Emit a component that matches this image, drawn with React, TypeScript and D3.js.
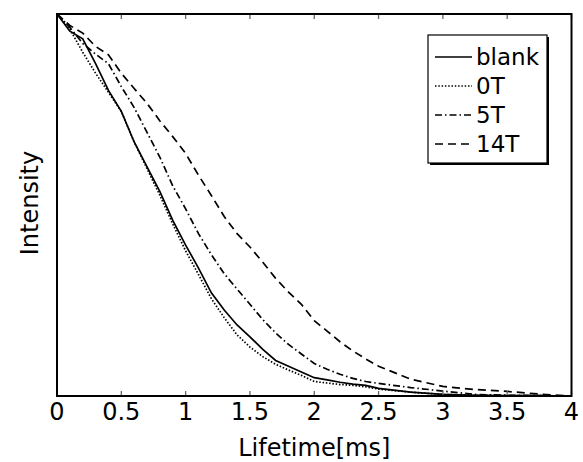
import React from "react";
import { scaleLinear, line } from "d3";

const timeMs = [0, 0.1, 0.2, 0.3, 0.4, 0.5, 0.6, 0.7, 0.8, 0.9, 1.0, 1.1, 1.2, 1.3, 1.4, 1.5, 1.6, 1.7, 1.8, 1.9, 2.0, 2.1, 2.2, 2.3, 2.4, 2.5, 2.75, 3.0, 3.25, 3.5, 3.75, 4.0];

const blank = [1.0, 0.955, 0.935, 0.87, 0.8, 0.745, 0.665, 0.6, 0.535, 0.46, 0.395, 0.335, 0.27, 0.225, 0.186, 0.155, 0.122, 0.093, 0.078, 0.063, 0.048, 0.042, 0.036, 0.031, 0.028, 0.02, 0.01, 0.004, 0.002, 0.001, 0.001, 0];
const t0 = [1.0, 0.96, 0.9, 0.845, 0.795, 0.745, 0.665, 0.595, 0.525, 0.45, 0.38, 0.318, 0.255, 0.205, 0.16, 0.128, 0.103, 0.083, 0.068, 0.054, 0.038, 0.034, 0.03, 0.028, 0.024, 0.018, 0.01, 0.004, 0.002, 0.001, 0.001, 0];
const t5 = [1.0, 0.965, 0.923, 0.895, 0.87, 0.81, 0.755, 0.69, 0.625, 0.55, 0.49, 0.425, 0.37, 0.32, 0.28, 0.24, 0.2, 0.165, 0.135, 0.11, 0.085, 0.07, 0.057, 0.046, 0.038, 0.033, 0.022, 0.013, 0.004, 0.002, 0.001, 0];
const t14 = [1.0, 0.97, 0.95, 0.915, 0.893, 0.845, 0.805, 0.766, 0.72, 0.679, 0.635, 0.578, 0.525, 0.47, 0.425, 0.39, 0.35, 0.308, 0.272, 0.24, 0.197, 0.17, 0.142, 0.118, 0.097, 0.078, 0.044, 0.025, 0.017, 0.012, 0.005, 0];

const seriesNames = ["blank", "0T", "5T", "14T"];
const seriesDash = ["none", "1.5,1.8", "7,3,1.5,3", "8,5"];
const xTicks = [0, 0.5, 1, 1.5, 2, 2.5, 3, 3.5, 4];

const W = 583, H = 462;
const left = 57, right = 571.5, top = 14, bottom = 396;
const font = "DejaVu Sans";

export default function App() {
  const x = scaleLinear().domain([0, 4]).range([left, right]);
  const y = scaleLinear().domain([0, 1]).range([bottom, top]);
  const all = [blank, t0, t5, t14];

  const path = (vals: number[]) =>
    line<number>()
      .x((d, i) => x(timeMs[i]))
      .y((d) => y(d))(vals) as string;

  return (
    <svg width={W} height={H} style={{ position: "absolute", left: 0, top: 0 }}>
      <rect x={0} y={0} width={W} height={H} fill="white" />
      {all.map((vals, i) => (
        <path key={i} d={path(vals)} fill="none" stroke="black" strokeWidth={1.7}
          strokeDasharray={seriesDash[i]} />
      ))}
      {xTicks.map((t) => (
        <g key={t}>
          <line x1={x(t)} x2={x(t)} y1={bottom} y2={bottom - 5} stroke="#666" strokeWidth={1.3} />
          <line x1={x(t)} x2={x(t)} y1={top} y2={top + 5} stroke="#666" strokeWidth={1.3} />
          <text x={x(t)} y={420} textAnchor="middle" fontFamily={font} fontSize={24}>{t}</text>
        </g>
      ))}
      <rect x={left} y={top} width={right - left} height={bottom - top} fill="none" stroke="black" strokeWidth={2} />
      <text x={(left + right) / 2} y={456} textAnchor="middle" fontFamily={font} fontSize={24}>Lifetime[ms]</text>
      <text transform={`translate(38,${(top + bottom) / 2 - 2}) rotate(-90)`} textAnchor="middle" fontFamily={font} fontSize={24}>Intensity</text>
      <g>
        <rect x={430} y={37} width={119} height={128} fill="black" />
        <rect x={428} y={35} width={119} height={128} fill="white" stroke="black" strokeWidth={1.2} />
        {seriesNames.map((n, i) => {
          const cy = 57 + i * 29;
          return (
            <g key={n}>
              <line x1={435} x2={472} y1={cy} y2={cy} stroke="black" strokeWidth={1.3} strokeDasharray={seriesDash[i]} />
              <text x={476} y={cy} dominantBaseline="central" fontFamily={font} fontSize={23}>{n}</text>
            </g>
          );
        })}
      </g>
    </svg>
  );
}
